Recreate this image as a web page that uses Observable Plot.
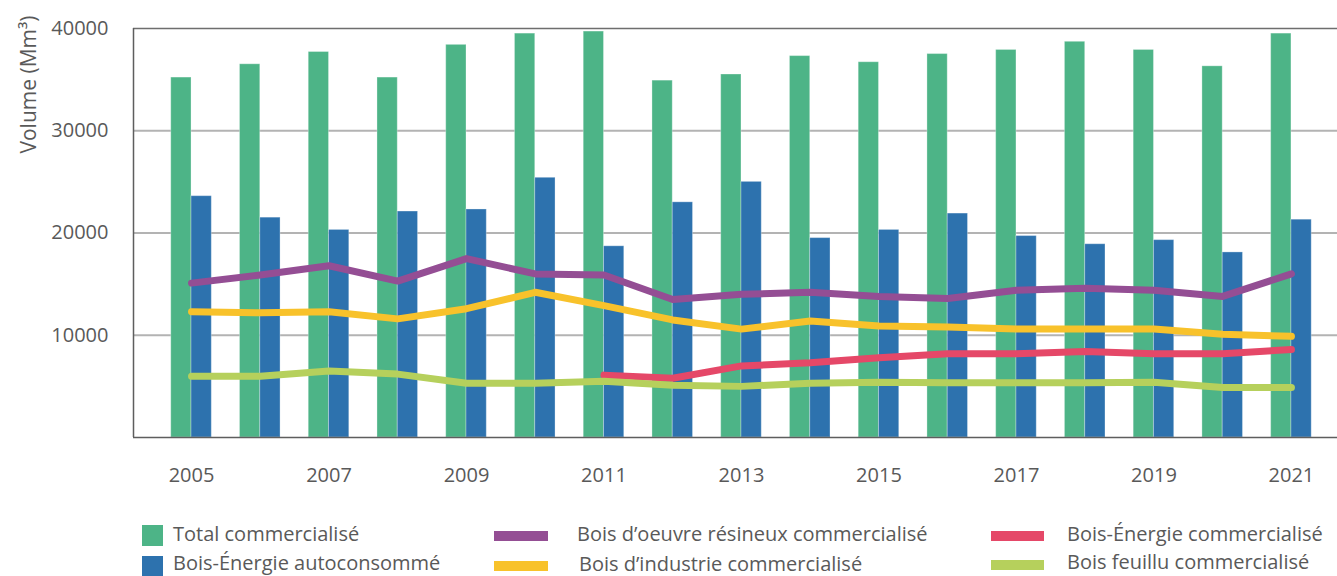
<!DOCTYPE html>
<html>
<head>
<meta charset="utf-8">
<script src="https://cdn.jsdelivr.net/npm/d3@7"></script>
<script src="https://cdn.jsdelivr.net/npm/@observablehq/plot@0.6"></script>
<style>
  html, body { margin: 0; padding: 0; background: #fff; }
  #chart { width: 1337px; height: 500px; }
  #legend { position: relative; width: 1337px; height: 76px; font-family: "Open Sans", sans-serif; font-size: 20px; line-height: 20px; color: #595959; }
  .sw { position: absolute; }
  .tx { position: absolute; white-space: nowrap; }
</style>
</head>
<body>
<div id="chart"></div>
<div id="legend"></div>
<script>
// ---- Data ----
const years = [2005, 2006, 2007, 2008, 2009, 2010, 2011, 2012, 2013, 2014, 2015, 2016, 2017, 2018, 2019, 2020, 2021];
const totalCommercialise = [35200, 36500, 37700, 35200, 38400, 39500, 39700, 34900, 35500, 37300, 36700, 37500, 37900, 38700, 37900, 36300, 39500];
const boisEnergieAutoconsomme = [23600, 21500, 20300, 22100, 22300, 25400, 18700, 23000, 25000, 19500, 20300, 21900, 19700, 18900, 19300, 18100, 21300];
const boisOeuvreResineux = [15100, 15900, 16800, 15300, 17500, 16000, 15900, 13500, 14000, 14200, 13800, 13600, 14400, 14600, 14400, 13800, 16000];
const boisIndustrie = [12300, 12200, 12300, 11600, 12600, 14200, 12900, 11500, 10600, 11400, 10900, 10800, 10600, 10600, 10600, 10100, 9900];
const boisEnergieCommercialise = [null, null, null, null, null, null, 6100, 5800, 7000, 7300, 7800, 8200, 8200, 8400, 8200, 8200, 8600];
const boisFeuillu = [6000, 6000, 6500, 6200, 5300, 5300, 5500, 5100, 5000, 5300, 5400, 5350, 5350, 5350, 5400, 4900, 4900];
const xTickYears = [2005, 2007, 2009, 2011, 2013, 2015, 2017, 2019, 2021];
const yTickValues = [10000, 20000, 30000, 40000];
const yLabel = "Volume (Mm³)";

const barNames = ["Total commercialisé", "Bois-Énergie autoconsommé"];
const lineNames = ["Bois d’oeuvre résineux commercialisé", "Bois d’industrie commercialisé", "Bois-Énergie commercialisé", "Bois feuillu commercialisé"];

// ---- Styles ----
const colors = {
  total: "#4db487",
  auto: "#2d72ae",
  oeuvre: "#944e94",
  industrie: "#f8c22b",
  energie: "#e54868",
  feuillu: "#b6d05c"
};
const textColor = "#595959";

const rows = years.map((year, i) => ({
  year,
  total: totalCommercialise[i],
  auto: boisEnergieAutoconsomme[i],
  oeuvre: boisOeuvreResineux[i],
  industrie: boisIndustrie[i],
  energie: boisEnergieCommercialise[i],
  feuillu: boisFeuillu[i]
}));

const barW = 0.295;
const lineW = 7;
const xDomain = [2004.156, 2021.67];

const lineMark = (key) => Plot.lineY(rows.filter(d => d[key] != null), {
  x: "year", y: key, stroke: colors[key], strokeWidth: lineW, strokeLinejoin: "round"
});

const chart = Plot.plot({
  width: 1337,
  height: 500,
  marginLeft: 133,
  marginRight: 0,
  marginTop: 28,
  marginBottom: 63,
  style: { fontFamily: "Open Sans, sans-serif", fontSize: "20px", color: textColor, background: "#fff", overflow: "visible" },
  x: { type: "linear", domain: xDomain },
  y: { domain: [0, 40000] },
  marks: [
    Plot.ruleY(yTickValues.slice(0, 3), { stroke: "#b3b3b3", strokeWidth: 2 }),
    Plot.rectY(rows, { x1: d => d.year - barW, x2: d => d.year, y: "total", fill: colors.total, stroke: "#ffffff", strokeOpacity: 0.3, strokeWidth: 1 }),
    Plot.rectY(rows, { x1: d => d.year, x2: d => d.year + barW, y: "auto", fill: colors.auto, stroke: "#ffffff", strokeOpacity: 0.3, strokeWidth: 1 }),
    lineMark("oeuvre"),
    lineMark("industrie"),
    lineMark("energie"),
    lineMark("feuillu"),
    Plot.ruleY([40000], { stroke: "#6e6e6e", strokeWidth: 1.5 }),
    Plot.ruleY([0], { stroke: "#5e5e5e", strokeWidth: 1.5 }),
    Plot.ruleX([xDomain[0]], { stroke: "#5e5e5e", strokeWidth: 1.5 }),
    Plot.axisX({ ticks: xTickYears, tickFormat: d => String(d), tickSize: 0, tickPadding: 30, label: null, fontSize: 20, fill: textColor }),
    Plot.axisY({ ticks: yTickValues, tickFormat: d => String(d), tickSize: 0, tickPadding: 25, label: null, fontSize: 20, fill: textColor }),
    Plot.text([yLabel], { frameAnchor: "top-left", rotate: -90, textAnchor: "end", dx: -112, dy: -13, fontSize: 21, fill: textColor, text: d => d })
  ]
});
document.getElementById("chart").appendChild(chart);

// ---- Legend (HTML below the SVG) ----
const legend = document.getElementById("legend");
const legendItems = [
  { name: barNames[0], color: colors.total, sw: [142, 25, 21, 21], tx: [173, 24] },
  { name: barNames[1], color: colors.auto, sw: [142, 56, 21, 20], tx: [173, 53] },
  { name: lineNames[0], color: colors.oeuvre, sw: [494, 31, 54, 10], tx: [577, 24] },
  { name: lineNames[1], color: colors.industrie, sw: [494, 61, 54, 10], tx: [579, 54] },
  { name: lineNames[2], color: colors.energie, sw: [991, 31, 53, 10], tx: [1067, 24] },
  { name: lineNames[3], color: colors.feuillu, sw: [991, 60, 53, 10], tx: [1067, 52] }
];
for (const it of legendItems) {
  const sw = document.createElement("div");
  sw.className = "sw";
  sw.style.left = it.sw[0] + "px";
  sw.style.top = it.sw[1] + "px";
  sw.style.width = it.sw[2] + "px";
  sw.style.height = it.sw[3] + "px";
  sw.style.background = it.color;
  const tx = document.createElement("div");
  tx.className = "tx";
  tx.style.left = it.tx[0] + "px";
  tx.style.top = it.tx[1] + "px";
  tx.textContent = it.name;
  legend.appendChild(sw);
  legend.appendChild(tx);
}
</script>
</body>
</html>
